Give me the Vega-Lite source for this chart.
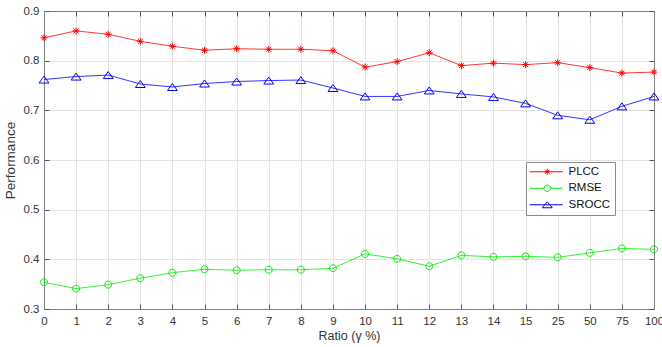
{
  "$schema": "https://vega.github.io/schema/vega-lite/v6.json",
  "width": 610,
  "height": 298,
  "autosize": {"type": "none"},
  "padding": {"left": 44, "top": 11, "right": 8, "bottom": 38},
  "background": "white",
  "config": {
    "font": "Liberation Sans",
    "view": {"stroke": null},
    "axis": {
      "labelFont": "Liberation Sans",
      "labelFontSize": 11.5,
      "labelColor": "#333333",
      "titleFont": "Liberation Sans",
      "titleFontSize": 12.5,
      "titleFontWeight": "normal",
      "titleColor": "#333333",
      "domainColor": "#808080",
      "domainWidth": 1,
      "tickColor": "#555555",
      "tickSize": -5,
      "gridColor": "#e3e3e3",
      "gridWidth": 1
    }
  },
  "data": {
    "values": [
      {"ratio": "0", "metric": "PLCC", "value": 0.846},
      {"ratio": "1", "metric": "PLCC", "value": 0.860},
      {"ratio": "2", "metric": "PLCC", "value": 0.853},
      {"ratio": "3", "metric": "PLCC", "value": 0.839},
      {"ratio": "4", "metric": "PLCC", "value": 0.829},
      {"ratio": "5", "metric": "PLCC", "value": 0.821},
      {"ratio": "6", "metric": "PLCC", "value": 0.824},
      {"ratio": "7", "metric": "PLCC", "value": 0.823},
      {"ratio": "8", "metric": "PLCC", "value": 0.823},
      {"ratio": "9", "metric": "PLCC", "value": 0.820},
      {"ratio": "10", "metric": "PLCC", "value": 0.787},
      {"ratio": "11", "metric": "PLCC", "value": 0.798},
      {"ratio": "12", "metric": "PLCC", "value": 0.816},
      {"ratio": "13", "metric": "PLCC", "value": 0.790},
      {"ratio": "14", "metric": "PLCC", "value": 0.795},
      {"ratio": "15", "metric": "PLCC", "value": 0.792},
      {"ratio": "25", "metric": "PLCC", "value": 0.796},
      {"ratio": "50", "metric": "PLCC", "value": 0.786},
      {"ratio": "75", "metric": "PLCC", "value": 0.775},
      {"ratio": "100", "metric": "PLCC", "value": 0.777},
      {"ratio": "0", "metric": "RMSE", "value": 0.354},
      {"ratio": "1", "metric": "RMSE", "value": 0.341},
      {"ratio": "2", "metric": "RMSE", "value": 0.349},
      {"ratio": "3", "metric": "RMSE", "value": 0.362},
      {"ratio": "4", "metric": "RMSE", "value": 0.373},
      {"ratio": "5", "metric": "RMSE", "value": 0.380},
      {"ratio": "6", "metric": "RMSE", "value": 0.378},
      {"ratio": "7", "metric": "RMSE", "value": 0.379},
      {"ratio": "8", "metric": "RMSE", "value": 0.379},
      {"ratio": "9", "metric": "RMSE", "value": 0.382},
      {"ratio": "10", "metric": "RMSE", "value": 0.411},
      {"ratio": "11", "metric": "RMSE", "value": 0.401},
      {"ratio": "12", "metric": "RMSE", "value": 0.386},
      {"ratio": "13", "metric": "RMSE", "value": 0.408},
      {"ratio": "14", "metric": "RMSE", "value": 0.405},
      {"ratio": "15", "metric": "RMSE", "value": 0.406},
      {"ratio": "25", "metric": "RMSE", "value": 0.404},
      {"ratio": "50", "metric": "RMSE", "value": 0.413},
      {"ratio": "75", "metric": "RMSE", "value": 0.422},
      {"ratio": "100", "metric": "RMSE", "value": 0.420},
      {"ratio": "0", "metric": "SROCC", "value": 0.762},
      {"ratio": "1", "metric": "SROCC", "value": 0.768},
      {"ratio": "2", "metric": "SROCC", "value": 0.771},
      {"ratio": "3", "metric": "SROCC", "value": 0.753},
      {"ratio": "4", "metric": "SROCC", "value": 0.747},
      {"ratio": "5", "metric": "SROCC", "value": 0.754},
      {"ratio": "6", "metric": "SROCC", "value": 0.758},
      {"ratio": "7", "metric": "SROCC", "value": 0.760},
      {"ratio": "8", "metric": "SROCC", "value": 0.761},
      {"ratio": "9", "metric": "SROCC", "value": 0.745},
      {"ratio": "10", "metric": "SROCC", "value": 0.728},
      {"ratio": "11", "metric": "SROCC", "value": 0.728},
      {"ratio": "12", "metric": "SROCC", "value": 0.740},
      {"ratio": "13", "metric": "SROCC", "value": 0.733},
      {"ratio": "14", "metric": "SROCC", "value": 0.727},
      {"ratio": "15", "metric": "SROCC", "value": 0.714},
      {"ratio": "25", "metric": "SROCC", "value": 0.690},
      {"ratio": "50", "metric": "SROCC", "value": 0.681},
      {"ratio": "75", "metric": "SROCC", "value": 0.708},
      {"ratio": "100", "metric": "SROCC", "value": 0.728}
    ]
  },
  "layer": [
    {
      "mark": {"type": "line", "strokeWidth": 0.8},
      "encoding": {
        "x": {
          "field": "ratio", "type": "ordinal",
          "scale": {"type": "point", "padding": 0, "domain": ["0","1","2","3","4","5","6","7","8","9","10","11","12","13","14","15","25","50","75","100"]},
          "axis": {"title": "Ratio (γ %)", "labelAngle": 0, "grid": true, "labelPadding": 11, "titlePadding": 3, "orient": "bottom"}
        },
        "y": {
          "field": "value", "type": "quantitative",
          "scale": {"domain": [0.3, 0.9], "nice": false, "zero": false},
          "axis": {"title": "Performance", "titleFontSize": 13.5, "values": [0.3,0.4,0.5,0.6,0.7,0.8,0.9], "format": ".1f", "grid": true, "labelPadding": 10, "titlePadding": 6, "orient": "left"}
        },
        "color": {
          "field": "metric", "type": "nominal",
          "scale": {"domain": ["PLCC","RMSE","SROCC"], "range": ["#ff0000","#00ee00","#0000ff"]},
          "legend": null
        },
        "detail": {"field": "metric"}
      }
    },
    {
      "mark": {"type": "point", "filled": false, "strokeWidth": 1, "size": 49, "opacity": 1},
      "encoding": {
        "x": {"field": "ratio", "type": "ordinal", "axis": null},
        "y": {"field": "value", "type": "quantitative", "axis": null},
        "color": {"field": "metric", "type": "nominal", "legend": null},
        "shape": {
          "field": "metric", "type": "nominal",
          "scale": {"domain": ["PLCC","RMSE","SROCC"], "range": [
            "M-1,0H1M0,-1V1M-0.7,-0.7L0.7,0.7M-0.7,0.7L0.7,-0.7",
            "M-1,0A1,1 0 1,0 1,0A1,1 0 1,0 -1,0Z",
            "M-1.4,1H1.4L0,-1Z"
          ]},
          "legend": null
        }
      }
    },
    {
      "transform": [{"filter": "datum.metric === 'none'"}],
      "mark": {"type": "point", "filled": false, "strokeWidth": 1, "size": 100, "opacity": 1},
      "encoding": {
        "x": {"field": "ratio", "type": "ordinal", "axis": {"orient": "top", "labels": false, "title": null, "grid": false, "domain": true}},
        "y": {"field": "value", "type": "quantitative", "axis": {"orient": "right", "labels": false, "title": null, "grid": false, "domain": true, "values": [0.3,0.4,0.5,0.6,0.7,0.8,0.9]}},
        "stroke": {
          "field": "metric", "type": "nominal",
          "scale": {"domain": ["PLCC","RMSE","SROCC"], "range": ["#ff0000","#00ee00","#0000ff"]},
          "legend": {"title": null, "orient": "none", "legendX": 482, "legendY": 151, "padding": 4, "strokeColor": "#8a8a8a", "fillColor": "white", "labelOffset": 27, "labelFontSize": 11.5, "labelColor": "#111111", "labelFont": "Liberation Sans", "rowPadding": 3.5, "symbolSize": 100, "symbolStrokeWidth": 1}
        },
        "shape": {
          "field": "metric", "type": "nominal",
          "scale": {"domain": ["PLCC","RMSE","SROCC"], "range": [
            "M-1.2,0H5.4M1.7,0H2.9M2.3,-0.6V0.6M1.88,-0.42L2.72,0.42M1.88,0.42L2.72,-0.42",
            "M-1.2,0H1.65M2.95,0H5.4M1.65,0A0.65,0.65 0 1,0 2.95,0A0.65,0.65 0 1,0 1.65,0",
            "M-1.2,0H5.4M1.3,0.6H3.3L2.3,-0.6Z"
          ]},
          "legend": {"title": null, "orient": "none", "legendX": 482, "legendY": 151, "padding": 4, "strokeColor": "#8a8a8a", "fillColor": "white", "labelOffset": 27, "labelFontSize": 11.5, "labelColor": "#111111", "labelFont": "Liberation Sans", "rowPadding": 3.5, "symbolSize": 100, "symbolStrokeWidth": 1}
        }
      }
    }
  ],
  "resolve": {
    "scale": {"shape": "independent", "stroke": "independent"},
    "axis": {"x": "independent", "y": "independent"},
    "legend": {"shape": "independent", "stroke": "independent"}
  }
}
